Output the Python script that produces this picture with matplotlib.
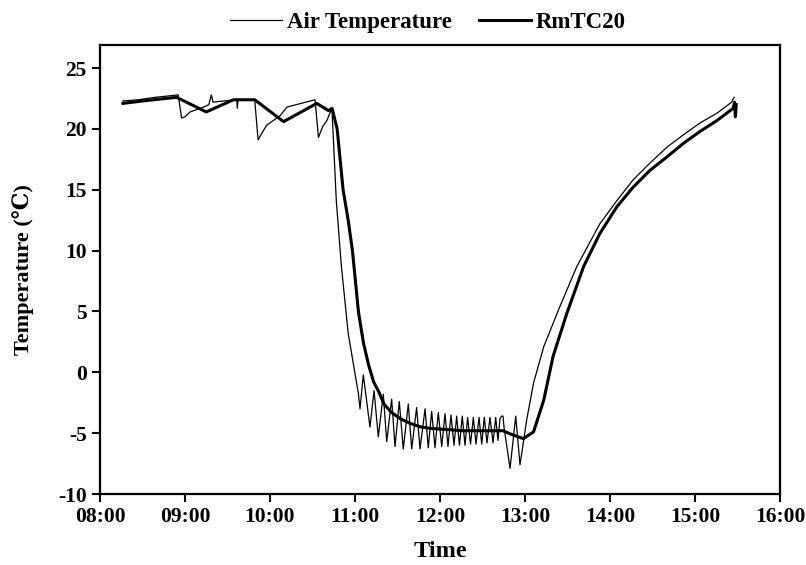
import matplotlib
matplotlib.use("Agg")
import matplotlib.pyplot as plt

plt.rcParams['font.family'] = ['Liberation Serif', 'DejaVu Serif']
plt.rcParams['font.weight'] = 'bold'
plt.rcParams['axes.unicode_minus'] = False

# time in decimal hours, temperature in degC
air_time = [8.27, 8.45, 8.65, 8.92, 8.96, 9.00, 9.06, 9.22, 9.28, 9.31, 9.33, 9.45,
            9.61, 9.615, 9.625, 9.82, 9.86, 9.90, 9.96, 10.12, 10.20, 10.53, 10.57,
            10.62, 10.67, 10.71, 10.73, 10.78, 10.84, 10.92, 11.04,
            11.059, 11.098, 11.176, 11.224, 11.274, 11.333, 11.373, 11.431, 11.471,
            11.521, 11.568, 11.627, 11.667, 11.725, 11.765, 11.824, 11.862, 11.902,
            11.941, 11.980, 12.020, 12.059, 12.094, 12.129, 12.165, 12.196, 12.229,
            12.262, 12.294, 12.325, 12.359, 12.392, 12.424, 12.459, 12.491, 12.521,
            12.553, 12.588, 12.624, 12.655, 12.682, 12.706, 12.724, 12.741, 12.753,
            12.824, 12.891, 12.941, 13.02, 13.10, 13.22, 13.41, 13.61, 13.88, 14.08,
            14.27, 14.47, 14.67, 14.86, 15.06, 15.26, 15.43, 15.46]
air_temp = [22.3, 22.4, 22.6, 22.8, 20.9, 21.0, 21.4, 21.8, 22.0, 22.8, 22.2, 22.3,
            22.4, 21.7, 22.4, 22.4, 19.1, 19.6, 20.3, 21.1, 21.8, 22.4, 19.3,
            20.2, 20.7, 21.4, 21.5, 14.1, 8.7, 3.2, -1.75,
            -3.0, -0.2, -4.5, -1.5, -5.3, -1.8, -5.7, -2.2, -6.1,
            -2.4, -6.3, -2.6, -6.3, -2.9, -6.3, -3.0, -6.2, -3.2,
            -6.2, -3.3, -6.1, -3.4, -6.1, -3.5, -6.0, -3.6, -6.0,
            -3.6, -6.0, -3.7, -5.9, -3.7, -5.9, -3.7, -5.9, -3.7,
            -5.8, -3.7, -5.8, -3.7, -5.6, -3.8, -3.6, -3.6, -4.5,
            -7.9, -3.6, -7.6, -3.9, -0.9, 2.1, 5.4, 8.7, 12.2, 14.1,
            15.8, 17.2, 18.5, 19.5, 20.5, 21.3, 22.2, 22.6]

rmtc_time = [8.27, 8.50, 8.90, 9.25, 9.57, 9.82, 10.16, 10.55, 10.69, 10.73, 10.79,
             10.86, 10.92, 10.97, 11.04, 11.10, 11.16, 11.22, 11.28, 11.34, 11.43,
             11.53, 11.65, 11.78, 11.88, 12.27, 12.74, 12.84, 12.98, 13.10, 13.22,
             13.33, 13.49, 13.69, 13.88, 14.08, 14.27, 14.47, 14.67, 14.86, 15.06,
             15.26, 15.45, 15.465, 15.475, 15.485]
rmtc_temp = [22.1, 22.3, 22.6, 21.4, 22.4, 22.4, 20.6, 22.1, 21.5, 21.7, 20.0,
             15.0, 12.5, 10.0, 5.0, 2.4, 0.6, -0.8, -1.6, -2.6, -3.3,
             -3.8, -4.2, -4.5, -4.6, -4.8, -4.8, -5.1, -5.45, -4.9, -2.3,
             1.3, 4.8, 8.7, 11.4, 13.6, 15.2, 16.6, 17.7, 18.8, 19.8,
             20.7, 21.7, 22.2, 21.0, 22.0]

x_ticks = [8, 9, 10, 11, 12, 13, 14, 15, 16]
x_labels = ['08:00', '09:00', '10:00', '11:00', '12:00', '13:00', '14:00', '15:00', '16:00']
y_ticks = [-10, -5, 0, 5, 10, 15, 20, 25]

fig = plt.figure(figsize=(8.06, 5.65), dpi=100)
ax = fig.add_axes([100/806, 1-494/565, 680/806, 449/565])

ax.plot(air_time, air_temp, color='black', lw=0.9, label='Air Temperature')
ax.plot(rmtc_time, rmtc_temp, color='black', lw=2.2, label='RmTC20')

ax.set_xlim(8, 16)
ax.set_ylim(-10, 26.9)
ax.set_xticks(x_ticks)
ax.set_xticklabels(x_labels)
ax.set_yticks(y_ticks)
ax.tick_params(labelsize=15.5, width=1.5, length=6, direction='out')
for s in ax.spines.values():
    s.set_linewidth(1.6)

ax.set_xlabel('Time', fontsize=17.5, fontweight='bold', labelpad=10)
ax.set_ylabel('Temperature (\u2103)', fontsize=16, fontweight='bold', labelpad=17)

fig.legend(loc='center', bbox_to_anchor=(428/806, 1-22/565), ncol=2, frameon=False,
           fontsize=16.5, handlelength=2.27, columnspacing=1.2, handletextpad=0.2)

fig.savefig('out.png', dpi=100)
